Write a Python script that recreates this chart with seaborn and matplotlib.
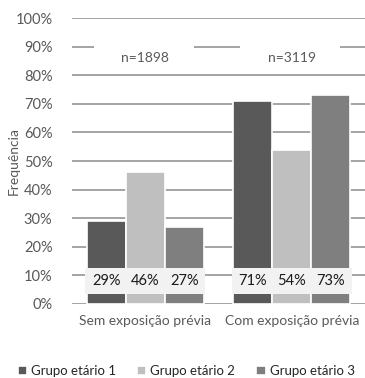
import pandas as pd
import matplotlib.pyplot as plt
import matplotlib.patches as mpatches
import seaborn as sns

# --- data ---
categorias = ["Sem exposição prévia", "Com exposição prévia"]
grupos = ["Grupo etário 1", "Grupo etário 2", "Grupo etário 3"]
sem_exposicao = [29, 46, 27]
com_exposicao = [71, 54, 73]
n_amostra = ["n=1898", "n=3119"]
cores = ["#595959", "#bfbfbf", "#7f7f7f"]

df = pd.DataFrame({
    "categoria": [categorias[0]] * 3 + [categorias[1]] * 3,
    "grupo": grupos * 2,
    "valor": sem_exposicao + com_exposicao,
})

sns.set_style("white")
plt.rcParams['font.family'] = ['Lato', 'DejaVu Sans']

fig = plt.figure(figsize=(3.65, 3.78), dpi=100)
ax = fig.add_axes([0.197, 0.196, 0.803, 0.756])

sns.barplot(data=df, x="categoria", y="valor", hue="grupo", order=categorias,
            hue_order=grupos, palette=cores, width=0.8, edgecolor="white",
            linewidth=1.2, saturation=1, ax=ax, legend=True, zorder=3)

ax.set_ylim(0, 100)
ax.set_xlim(-0.5, 1.5)
ax.set_yticks(range(0, 101, 10))
ax.set_yticklabels([f"{t}%" for t in range(0, 101, 10)])
ax.grid(axis="y", color="#8c8c8c", linewidth=1.1, zorder=0)
ax.set_axisbelow(True)
for s in ax.spines.values():
    s.set_visible(False)
ax.tick_params(axis="both", length=0, colors="#595959", labelsize=10.5)
ax.tick_params(axis="y", pad=14)
ax.tick_params(axis="x", pad=8, labelsize=10)
ax.set_xlabel("")
ax.set_ylabel("Frequência", color="#595959", fontsize=10)
ax.yaxis.set_label_coords(-0.178, 0.5)

# data labels on light boxes near the base
bars = [p for p in ax.patches if p.get_height() > 0][:6]
for p in bars:
    ax.add_patch(mpatches.Rectangle((p.get_x() - 0.01, 3.4), p.get_width() + 0.02, 9.2,
                                    facecolor="#f2f2f2", edgecolor="none", zorder=4))
    ax.text(p.get_x() + p.get_width() / 2, 8, f"{p.get_height():.0f}%",
            ha="center", va="center", fontsize=10.5, color="#1a1a1a", zorder=5)

# sample sizes with white background breaking the 90% gridline
for i, txt in enumerate(n_amostra):
    ax.add_patch(mpatches.Rectangle((i - 0.35, 83.0), 0.68, 9.0, facecolor="white",
                                    edgecolor="none", zorder=4))
    ax.text(i, 86.0, txt, ha="center", va="center", fontsize=10,
            color="#595959", zorder=5)

leg = ax.legend(loc="lower center", bbox_to_anchor=(0.39, -0.275), ncol=3,
                frameon=False, fontsize=9.5, handlelength=0.7, handleheight=0.7,
                handletextpad=0.3, columnspacing=1.6, borderaxespad=0)
for t in leg.get_texts():
    t.set_color("#262626")

fig.savefig("out.png", dpi=100)
